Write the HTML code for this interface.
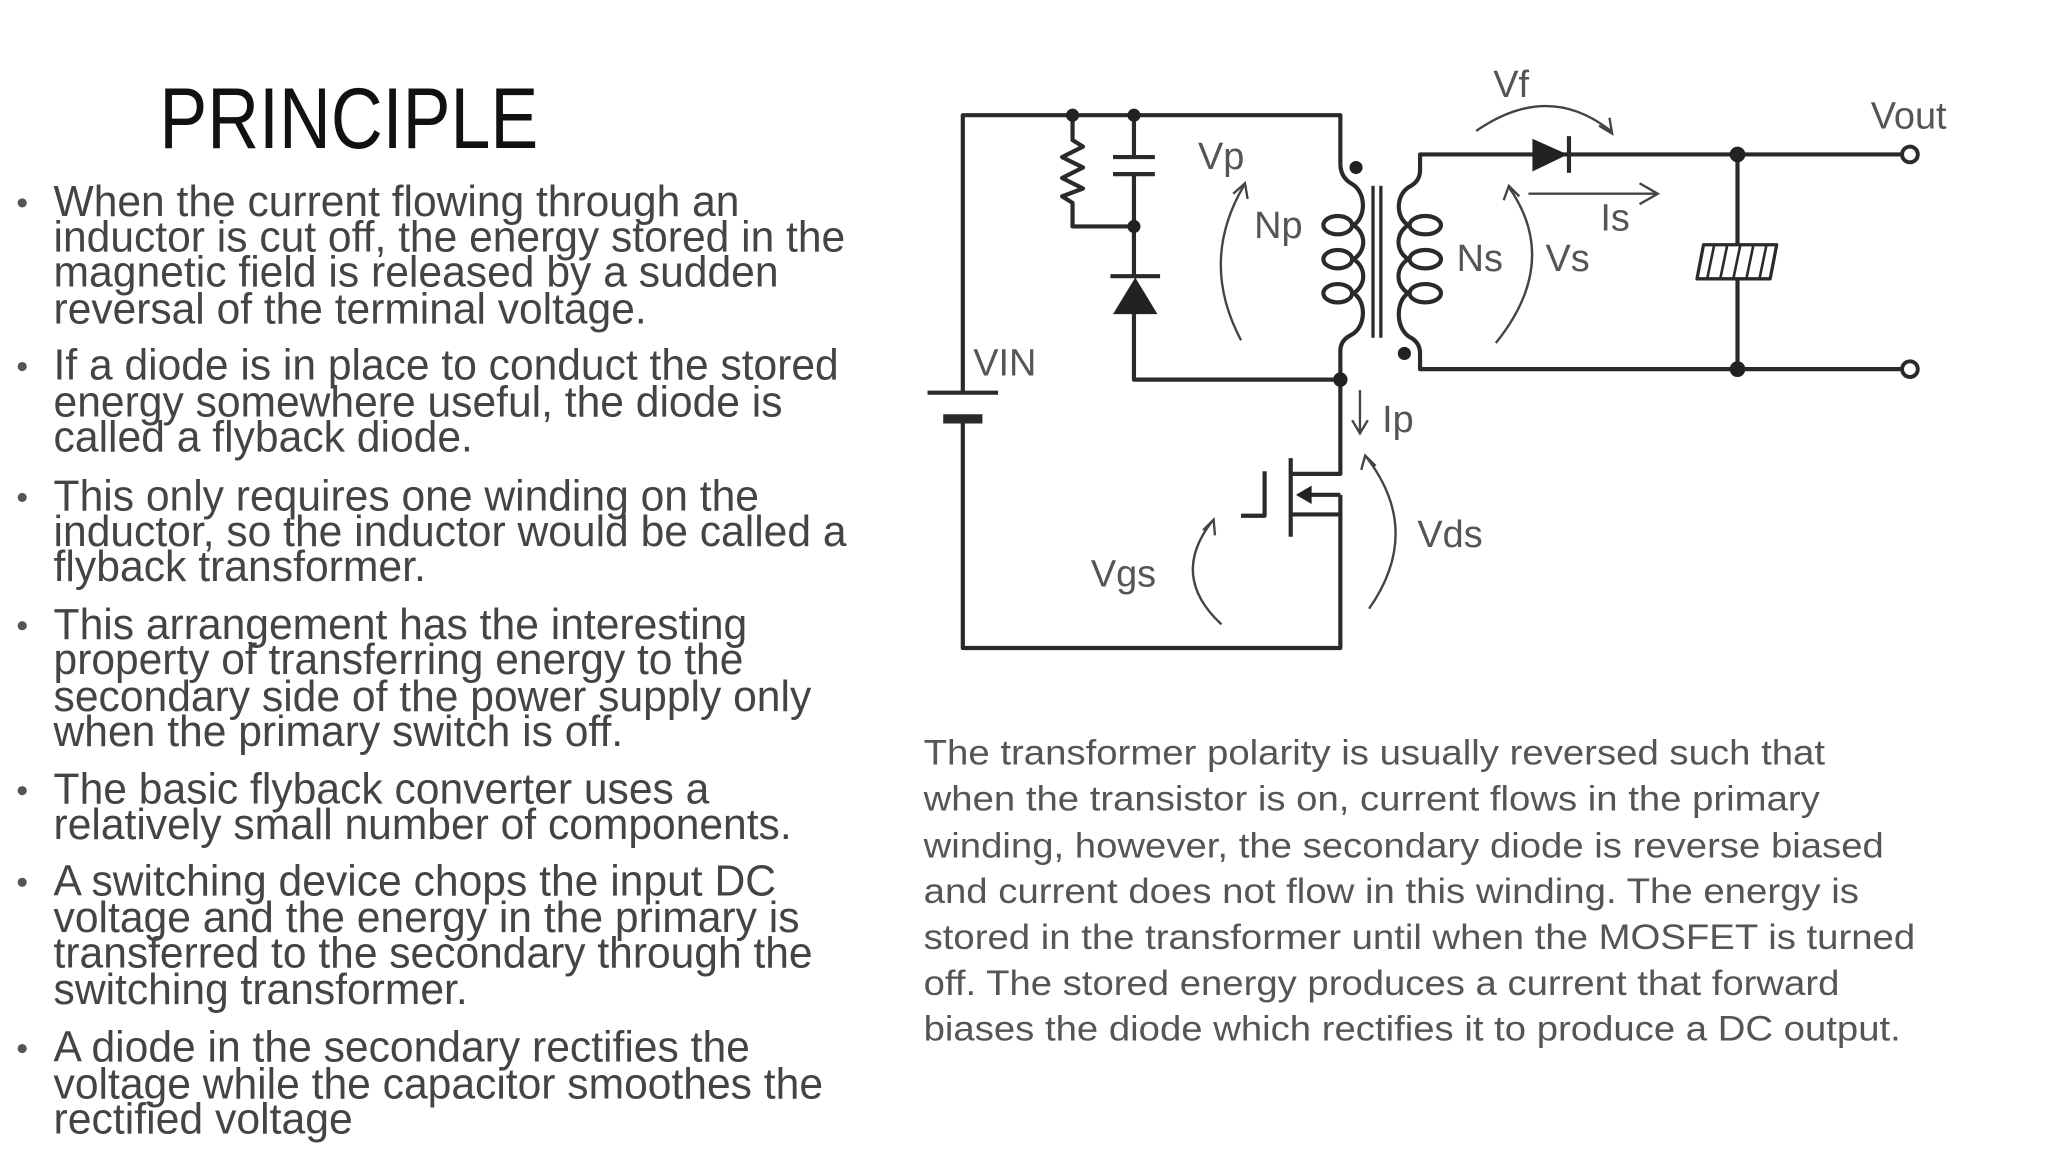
<!DOCTYPE html>
<html><head><meta charset="utf-8"><style>html,body{margin:0;padding:0;background:#fff}svg{display:block}</style></head>
<body>
<svg width="2048" height="1152" viewBox="0 0 1552 873" xmlns="http://www.w3.org/2000/svg">
<rect width="1552" height="873" fill="#fff"/>
<g transform="scale(0.99,0.992)">
<text x="122" y="113" font-family="Liberation Sans, sans-serif" font-size="66" fill="#111" textLength="290" lengthAdjust="spacingAndGlyphs">PRINCIPLE</text>
<g font-family="Liberation Sans, sans-serif" font-size="33" fill="#444" lengthAdjust="spacingAndGlyphs">
<text x="41" y="165" textLength="525" lengthAdjust="spacingAndGlyphs">When the current flowing through an</text>
<text x="41" y="192" textLength="606" lengthAdjust="spacingAndGlyphs">inductor is cut off, the energy stored in the</text>
<text x="41" y="219" textLength="555" lengthAdjust="spacingAndGlyphs">magnetic field is released by a sudden</text>
<text x="41" y="247" textLength="454" lengthAdjust="spacingAndGlyphs">reversal of the terminal voltage.</text>
<text x="41" y="290" textLength="601" lengthAdjust="spacingAndGlyphs">If a diode is in place to conduct the stored</text>
<text x="41" y="318" textLength="558" lengthAdjust="spacingAndGlyphs">energy somewhere useful, the diode is</text>
<text x="41" y="345" textLength="321" lengthAdjust="spacingAndGlyphs">called a flyback diode.</text>
<text x="41" y="390" textLength="540" lengthAdjust="spacingAndGlyphs">This only requires one winding on the</text>
<text x="41" y="417" textLength="607" lengthAdjust="spacingAndGlyphs">inductor, so the inductor would be called a</text>
<text x="41" y="444" textLength="285" lengthAdjust="spacingAndGlyphs">flyback transformer.</text>
<text x="41" y="488" textLength="531" lengthAdjust="spacingAndGlyphs">This arrangement has the interesting</text>
<text x="41" y="515" textLength="528" lengthAdjust="spacingAndGlyphs">property of transferring energy to the</text>
<text x="41" y="543" textLength="580" lengthAdjust="spacingAndGlyphs">secondary side of the power supply only</text>
<text x="41" y="570" textLength="436" lengthAdjust="spacingAndGlyphs">when the primary switch is off.</text>
<text x="41" y="614" textLength="502" lengthAdjust="spacingAndGlyphs">The basic flyback converter uses a</text>
<text x="41" y="641" textLength="565" lengthAdjust="spacingAndGlyphs">relatively small number of components.</text>
<text x="41" y="684" textLength="553" lengthAdjust="spacingAndGlyphs">A switching device chops the input DC</text>
<text x="41" y="712" textLength="571" lengthAdjust="spacingAndGlyphs">voltage and the energy in the primary is</text>
<text x="41" y="739" textLength="581" lengthAdjust="spacingAndGlyphs">transferred to the secondary through the</text>
<text x="41" y="767" textLength="317" lengthAdjust="spacingAndGlyphs">switching transformer.</text>
<text x="41" y="811" textLength="533" lengthAdjust="spacingAndGlyphs">A diode in the secondary rectifies the</text>
<text x="41" y="839" textLength="589" lengthAdjust="spacingAndGlyphs">voltage while the capacitor smoothes the</text>
<text x="41" y="866" textLength="229" lengthAdjust="spacingAndGlyphs">rectified voltage</text>
</g>
<g fill="#555">
<circle cx="17" cy="155" r="3.5"/><circle cx="17" cy="280" r="3.5"/><circle cx="17" cy="380" r="3.5"/><circle cx="17" cy="478" r="3.5"/><circle cx="17" cy="604" r="3.5"/><circle cx="17" cy="674" r="3.5"/><circle cx="17" cy="801" r="3.5"/>
</g>
<g font-family="Liberation Sans, sans-serif" font-size="27" fill="#555">
<text x="707" y="584" textLength="690" lengthAdjust="spacingAndGlyphs">The transformer polarity is usually reversed such that</text>
<text x="707" y="619" textLength="686" lengthAdjust="spacingAndGlyphs">when the transistor is on, current flows in the primary</text>
<text x="707" y="655" textLength="735" lengthAdjust="spacingAndGlyphs">winding, however, the secondary diode is reverse biased</text>
<text x="707" y="690" textLength="716" lengthAdjust="spacingAndGlyphs">and current does not flow in this winding. The energy is</text>
<text x="707" y="725" textLength="759" lengthAdjust="spacingAndGlyphs">stored in the transformer until when the MOSFET is turned</text>
<text x="707" y="760" textLength="701" lengthAdjust="spacingAndGlyphs">off. The stored energy produces a current that forward</text>
<text x="707" y="795" textLength="748" lengthAdjust="spacingAndGlyphs">biases the diode which rectifies it to produce a DC output.</text>
</g>
<g stroke="#2a2a2a" stroke-width="3.2" fill="none" stroke-linejoin="round">
<path d="M737,300 V88 H1026 V125"/>
<path d="M737,319 V495 H1026 V378"/>
<path d="M710,300 H764"/>
<path d="M722,320 H752" stroke-width="7"/>
<path d="M821,88 V107 L829,112 L813,120 L829,128 L813,136 L829,144 L813,150 L821,155 V173 H868"/>
<path d="M868,88 V120 M852,120 H884 M852,133 H884 M868,133 V212 M868,238 V290 H1026"/>
<path d="M850,211 H888"/>
<path d="M1026,125 Q1026,135 1034,140 C1046,146 1046,166 1036,172 C1046,178 1046,192 1036,198 C1046,204 1046,218 1036,224 C1046,230 1046,250 1034,256 Q1026,260 1026,268 V362 H988"/>
<ellipse cx="1024" cy="172" rx="11" ry="7"/><ellipse cx="1024" cy="198" rx="11" ry="7"/><ellipse cx="1024" cy="224" rx="11" ry="7"/>
<path d="M1051,142 V258 M1057,142 V258" stroke-width="2.5"/>
<path d="M1460,118 H1087 V130 Q1087,138 1080,142 C1068,148 1068,166 1078,172 C1068,178 1068,192 1078,198 C1068,204 1068,218 1078,224 C1068,230 1068,252 1080,258 Q1087,262 1087,270 V282 H1456"/>
<ellipse cx="1091" cy="172" rx="12" ry="7"/><ellipse cx="1091" cy="198" rx="12" ry="7"/><ellipse cx="1091" cy="224" rx="12" ry="7"/>
<path d="M1201,104 V132"/>
<path d="M1330,118 V187 M1330,213 V282"/>
<path d="M1304,187 H1360 L1355,213 H1299 Z" stroke-width="2.5"/>
<path d="M1312,188 L1307,212 M1322,188 L1317,212 M1332,188 L1327,212 M1342,188 L1337,212 M1352,188 L1347,212" stroke-width="2"/>
<path d="M988,350 V410"/>
<path d="M988,393 H1026"/>
<path d="M1026,378 H998"/>
<path d="M968,360 V394 H950"/>
</g>
<g fill="#222">
<circle cx="821" cy="88" r="5"/><circle cx="868" cy="88" r="5"/><circle cx="868" cy="173" r="5"/>
<circle cx="1026" cy="290" r="5.5"/><circle cx="1038" cy="128" r="5"/><circle cx="1075" cy="270" r="5"/>
<circle cx="1330" cy="118" r="6"/><circle cx="1330" cy="282" r="6"/>
<polygon points="852,240 886,240 869,212"/>
<polygon points="1173,106 1173,131 1200,118"/>
<polygon points="992,378 1004,371 1004,385"/>
</g>
<circle cx="1462" cy="118" r="6" fill="#fff" stroke="#2a2a2a" stroke-width="3"/>
<circle cx="1462" cy="282" r="6" fill="#fff" stroke="#2a2a2a" stroke-width="3"/>
<g stroke="#444" stroke-width="1.8" fill="none">
<path d="M1130,100 Q1185,62 1233,100"/><path d="M1224,96 L1234,102 L1232,90"/>
<path d="M950,260 Q918,200 952,142"/><path d="M944,148 L953,140 L955,152"/>
<path d="M1145,262 Q1195,200 1155,143"/><path d="M1151,153 L1155,142 L1163,150"/>
<path d="M1170,148 H1268"/><path d="M1255,140 L1269,148 L1255,156"/>
<path d="M1041,298 V330"/><path d="M1035,321 L1041,331 L1047,321"/>
<path d="M1048,465 Q1090,405 1045,348"/><path d="M1042,359 L1045,348 L1053,356"/>
<path d="M935,477 Q895,440 928,398"/><path d="M921,405 L929,397 L930,409"/>
</g>
<g font-family="Liberation Sans, sans-serif" font-size="29" fill="#555">
<text x="1143" y="74">Vf</text>
<text x="1432" y="98">Vout</text>
<text x="917" y="129">Vp</text>
<text x="960" y="182">Np</text>
<text x="1115" y="207">Ns</text>
<text x="1183" y="207">Vs</text>
<text x="1225" y="176">Is</text>
<text x="745" y="287">VIN</text>
<text x="1058" y="330">Ip</text>
<text x="1085" y="418">Vds</text>
<text x="835" y="448">Vgs</text>
</g>
</g>
</svg>
</body></html>
